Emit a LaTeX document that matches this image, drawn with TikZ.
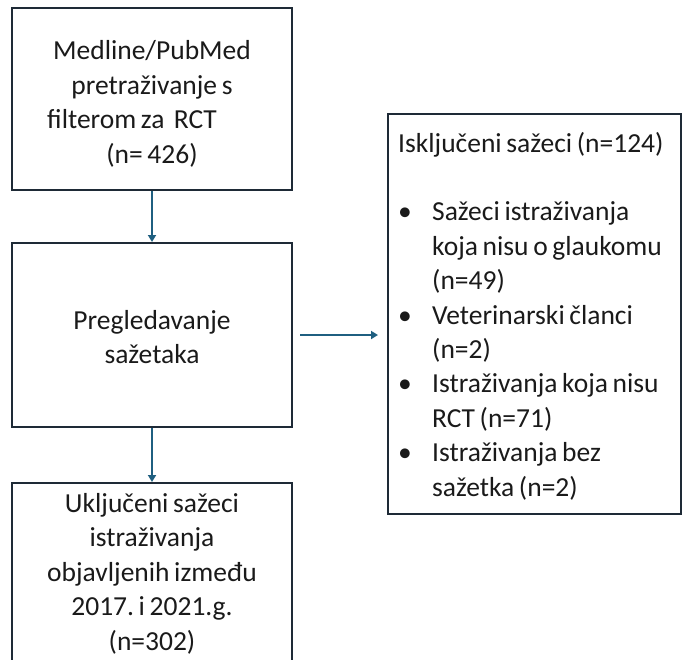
\documentclass[tikz,border=0pt]{standalone}
\usepackage{fontspec}
\setmainfont{Carlito}[WordSpace=0.75]
\frenchspacing
\usetikzlibrary{positioning,arrows.meta}
\definecolor{boxline}{HTML}{1E2A36}
\definecolor{flowblue}{HTML}{1F5F80}
\definecolor{txt}{HTML}{1A1A1A}
\tikzset{
  stage/.style={draw=boxline, line width=2pt, minimum width=280pt, inner sep=0pt},
  flow/.style={draw=flowblue, line width=1.8pt, -{Triangle[length=7pt,width=8pt]}},
  txtfont/.style={font=\fontsize{27.5}{34.5}\selectfont, text=txt, inner sep=0pt}
}
\newcommand{\blt}{\makebox[34pt][l]{\textbullet}}
\newcommand{\ind}{\hspace*{34pt}}

\begin{document}
\begin{tikzpicture}[x=1pt,y=-1pt]
\useasboundingbox (0,0) rectangle (682,659);
% left column
\node[stage, minimum height=182pt] (search) at (152,99) {};
\node[txtfont, align=center] (searchtxt) at (152,104) {Medline/PubMed\\ pretraživanje s\\ filterom za\ \ RCT\makebox[40pt]{}\\ (n= 426)};
\node[stage, minimum height=184pt] (screen) at (152,335) {};
\node[txtfont, align=center] (screentxt) at (152,337) {Pregledavanje\\ sažetaka};
\node[stage, minimum height=220pt, anchor=north] (incl) at (152,482) {};
\node[txtfont, align=center, anchor=north] (incltxt) at (152,493) {Uključeni sažeci\\ istraživanja\\ objavljenih između\\ 2017. i 2021.g.\\ (n=302)};
% excluded
\node[stage, minimum width=293pt, minimum height=400pt, anchor=north west] (excl) at (387,113) {};
\node[txtfont, font=\fontsize{27.5}{34.4}\selectfont, align=left, anchor=west] (excltxt) at (398,316) {Isključeni sažeci (n=124)\\[34.4pt]
  \blt Sažeci istraživanja\\ \ind koja nisu o glaukomu\\ \ind (n=49)\\
  \blt Veterinarski članci\\ \ind (n=2)\\
  \blt Istraživanja koja nisu\\ \ind RCT (n=71)\\
  \blt Istraživanja bez\\ \ind sažetka (n=2)};
% arrows
\draw[flow] (search.south) -- (screen.north);
\draw[flow] (screen.south) -- (incl.north);
\draw[flow, shorten <=7pt, shorten >=9pt] (screen.east) -- (screen.east -| excl.west);
\end{tikzpicture}
\end{document}
